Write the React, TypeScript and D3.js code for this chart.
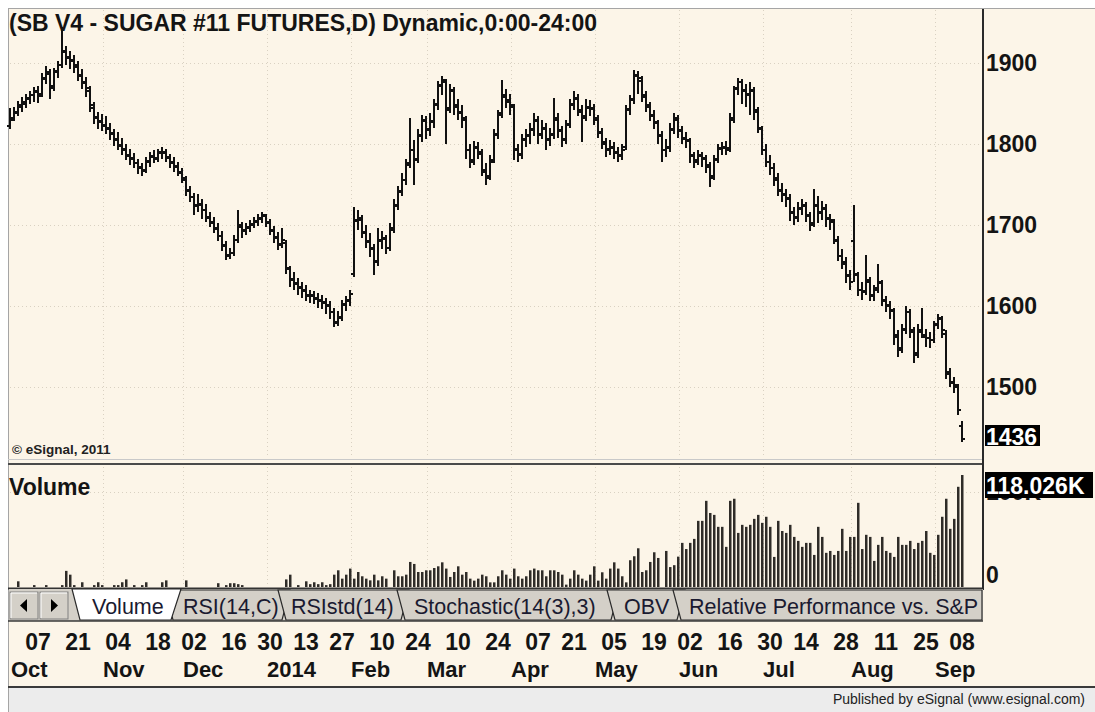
import React from 'react';
import * as d3 from 'd3';

// trading calendar (ICE sugar, Oct contract)
const firstDay = '2013-09-26';
const lastDay = '2014-09-08';
const holidays = ['2013-11-28', '2013-12-25', '2014-01-01', '2014-01-20', '2014-02-17',
  '2014-04-18', '2014-05-26', '2014-07-04', '2014-09-01'];

// daily bars
const opens = [
  1822, 1832, 1838, 1846, 1850, 1855, 1861, 1866, 1862, 1880,
  1887, 1872, 1890, 1898, 1913, 1906, 1902, 1895, 1884, 1875,
  1866, 1845, 1833, 1828, 1822, 1819, 1812, 1806, 1798, 1794,
  1785, 1782, 1776, 1771, 1767, 1779, 1785, 1782, 1790, 1789,
  1783, 1778, 1772, 1764, 1756, 1742, 1734, 1724, 1726, 1718,
  1710, 1703, 1695, 1686, 1674, 1663, 1666, 1682, 1698, 1693,
  1697, 1701, 1705, 1708, 1711, 1703, 1693, 1684, 1676, 1678,
  1646, 1633, 1627, 1622, 1619, 1612, 1613, 1609, 1606, 1604,
  1600, 1592, 1579, 1586, 1602, 1606, 1640, 1705, 1706, 1690,
  1680, 1670, 1656, 1680, 1683, 1672, 1696, 1724, 1742, 1755,
  1776, 1792, 1782, 1810, 1828, 1818, 1828, 1850, 1872, 1876,
  1845, 1865, 1846, 1838, 1830, 1792, 1780, 1796, 1788, 1766,
  1760, 1780, 1812, 1838, 1858, 1852, 1846, 1794, 1788, 1806,
  1810, 1818, 1828, 1812, 1818, 1806, 1812, 1830, 1816, 1806,
  1825, 1850, 1855, 1840, 1834, 1846, 1843, 1830, 1814, 1800,
  1794, 1796, 1789, 1786, 1796, 1843, 1856, 1884, 1878, 1858,
  1846, 1835, 1826, 1810, 1792, 1796, 1818, 1830, 1816, 1806,
  1804, 1785, 1780, 1785, 1782, 1772, 1760, 1782, 1794, 1796,
  1795, 1832, 1868, 1876, 1866, 1862, 1865, 1840, 1818, 1792,
  1778, 1770, 1756, 1742, 1738, 1732, 1715, 1710, 1720, 1724,
  1711, 1702, 1724, 1715, 1720, 1708, 1704, 1680, 1662, 1652,
  1637, 1680, 1638, 1620, 1618, 1630, 1612, 1622, 1628, 1606,
  1600, 1594, 1562, 1548, 1572, 1592, 1568, 1542, 1568, 1562,
  1560, 1558, 1578, 1584, 1566, 1516, 1505, 1500, 1452,
];
const highs = [
  1845, 1846, 1853, 1858, 1862, 1866, 1870, 1871, 1888, 1896,
  1893, 1894, 1903, 1945, 1921, 1915, 1910, 1902, 1892, 1883,
  1872, 1852, 1840, 1837, 1834, 1826, 1818, 1815, 1808, 1800,
  1794, 1789, 1782, 1777, 1784, 1790, 1792, 1794, 1796, 1794,
  1788, 1784, 1778, 1770, 1760, 1748, 1740, 1738, 1732, 1726,
  1716, 1710, 1702, 1693, 1680, 1672, 1688, 1718, 1704, 1702,
  1706, 1710, 1713, 1716, 1714, 1708, 1699, 1691, 1696, 1682,
  1650, 1642, 1635, 1630, 1626, 1620, 1618, 1616, 1614, 1610,
  1606, 1598, 1594, 1608, 1612, 1620, 1722, 1718, 1712, 1700,
  1690, 1676, 1696, 1692, 1688, 1702, 1732, 1748, 1764, 1782,
  1832, 1805, 1818, 1836, 1834, 1838, 1856, 1878, 1884, 1880,
  1874, 1870, 1856, 1848, 1834, 1800, 1804, 1802, 1794, 1776,
  1786, 1818, 1842, 1879, 1868, 1862, 1850, 1800, 1812, 1818,
  1826, 1838, 1834, 1830, 1826, 1820, 1857, 1838, 1822, 1830,
  1856, 1866, 1862, 1848, 1855, 1854, 1850, 1836, 1820, 1808,
  1805, 1802, 1796, 1800, 1848, 1860, 1891, 1890, 1884, 1866,
  1852, 1842, 1830, 1816, 1806, 1826, 1838, 1836, 1822, 1815,
  1808, 1790, 1792, 1790, 1786, 1778, 1786, 1800, 1802, 1804,
  1838, 1872, 1881, 1880, 1874, 1876, 1870, 1846, 1822, 1800,
  1786, 1776, 1764, 1752, 1744, 1738, 1722, 1728, 1732, 1728,
  1716, 1745, 1736, 1730, 1726, 1714, 1708, 1686, 1670, 1660,
  1644, 1725, 1642, 1630, 1663, 1636, 1626, 1652, 1632, 1612,
  1606, 1598, 1570, 1578, 1600, 1596, 1574, 1578, 1597, 1572,
  1568, 1582, 1590, 1588, 1570, 1524, 1512, 1504, 1458,
];
const lows = [
  1818, 1828, 1834, 1840, 1845, 1849, 1852, 1851, 1858, 1874,
  1855, 1866, 1882, 1894, 1898, 1893, 1888, 1878, 1868, 1858,
  1840, 1825, 1818, 1816, 1812, 1805, 1797, 1792, 1786, 1780,
  1774, 1770, 1763, 1760, 1764, 1772, 1776, 1778, 1782, 1778,
  1770, 1766, 1760, 1752, 1736, 1728, 1712, 1716, 1708, 1704,
  1698, 1690, 1680, 1668, 1657, 1658, 1662, 1678, 1684, 1688,
  1691, 1696, 1699, 1702, 1698, 1688, 1678, 1669, 1672, 1640,
  1624, 1620, 1614, 1610, 1606, 1604, 1602, 1598, 1596, 1590,
  1584, 1574, 1575, 1582, 1594, 1600, 1636, 1694, 1684, 1672,
  1660, 1638, 1650, 1670, 1664, 1668, 1690, 1718, 1736, 1750,
  1770, 1750, 1776, 1802, 1806, 1810, 1820, 1842, 1860, 1800,
  1838, 1836, 1830, 1820, 1782, 1770, 1774, 1782, 1760, 1750,
  1756, 1776, 1806, 1832, 1845, 1836, 1780, 1778, 1782, 1796,
  1800, 1810, 1800, 1806, 1792, 1798, 1806, 1808, 1796, 1800,
  1820, 1842, 1834, 1802, 1828, 1834, 1824, 1808, 1794, 1784,
  1786, 1782, 1778, 1780, 1792, 1836, 1850, 1862, 1852, 1840,
  1828, 1818, 1800, 1778, 1784, 1790, 1812, 1808, 1800, 1795,
  1776, 1770, 1774, 1772, 1764, 1747, 1756, 1776, 1786, 1786,
  1790, 1826, 1860, 1850, 1846, 1836, 1830, 1814, 1786, 1772,
  1762, 1748, 1736, 1728, 1722, 1705, 1700, 1704, 1712, 1704,
  1692, 1698, 1702, 1706, 1698, 1694, 1676, 1656, 1646, 1628,
  1620, 1630, 1612, 1608, 1614, 1606, 1606, 1616, 1600, 1592,
  1584, 1552, 1537, 1542, 1566, 1560, 1530, 1536, 1560, 1550,
  1548, 1554, 1572, 1560, 1510, 1500, 1492, 1465, 1432,
];
const closes = [
  1830, 1840, 1848, 1852, 1857, 1860, 1864, 1859, 1882, 1889,
  1869, 1889, 1897, 1915, 1907, 1904, 1897, 1885, 1877, 1869,
  1848, 1832, 1827, 1823, 1820, 1813, 1805, 1799, 1793, 1786,
  1783, 1777, 1770, 1768, 1778, 1784, 1783, 1789, 1790, 1784,
  1777, 1773, 1765, 1758, 1743, 1735, 1725, 1725, 1719, 1709,
  1704, 1696, 1687, 1675, 1662, 1665, 1681, 1700, 1694, 1696,
  1700, 1704, 1709, 1712, 1704, 1694, 1685, 1675, 1681, 1647,
  1632, 1628, 1623, 1620, 1613, 1612, 1610, 1607, 1605, 1601,
  1593, 1580, 1585, 1601, 1607, 1615, 1706, 1709, 1691, 1679,
  1671, 1654, 1681, 1684, 1671, 1694, 1725, 1741, 1756, 1774,
  1793, 1780, 1811, 1830, 1817, 1827, 1848, 1873, 1879, 1842,
  1867, 1848, 1840, 1832, 1793, 1778, 1795, 1790, 1768, 1758,
  1778, 1811, 1836, 1860, 1854, 1848, 1793, 1786, 1805, 1811,
  1817, 1830, 1811, 1820, 1805, 1811, 1832, 1817, 1805, 1823,
  1848, 1857, 1842, 1832, 1845, 1845, 1832, 1815, 1802, 1793,
  1795, 1790, 1785, 1793, 1842, 1854, 1885, 1881, 1860, 1848,
  1836, 1827, 1811, 1793, 1795, 1817, 1832, 1817, 1807, 1805,
  1786, 1778, 1786, 1783, 1774, 1758, 1780, 1795, 1795, 1793,
  1830, 1869, 1877, 1867, 1860, 1867, 1842, 1820, 1793, 1778,
  1770, 1758, 1743, 1737, 1733, 1716, 1709, 1721, 1725, 1712,
  1700, 1725, 1716, 1721, 1709, 1706, 1681, 1662, 1654, 1638,
  1630, 1640, 1620, 1617, 1632, 1613, 1620, 1630, 1607, 1601,
  1595, 1564, 1546, 1570, 1593, 1570, 1540, 1570, 1564, 1560,
  1558, 1576, 1585, 1570, 1518, 1506, 1502, 1472, 1436,
];
// volume in thousands of contracts
const volumes = [
  0, 0, 6, 0, 0, 0, 2, 0, 0, 2,
  0, 0, 0, 2, 17, 13, 2, 0, 5, 0,
  0, 2, 5, 2, 0, 0, 2, 2, 5, 8,
  0, 2, 0, 2, 5, 0, 0, 0, 5, 7,
  0, 0, 0, 0, 7, 0, 0, 0, 0, 0,
  0, 0, 4, 0, 2, 4, 4, 3, 2, 0,
  0, 0, 0, 0, 0, 0, 0, 0, 0, 8,
  13, 0, 2, 0, 6, 3, 5, 3, 5, 2,
  3, 13, 17.6, 8.8, 13, 19.4, 8.8, 15.8, 11.3, 8.8,
  7, 13, 7, 11.3, 8.8, 0, 17.6, 11.3, 11.3, 13,
  26.4, 24.3, 15.8, 15.8, 17.6, 17.6, 20, 21.8, 26, 19.4,
  10.6, 15.8, 21.8, 13, 15.8, 8.8, 6.7, 8.8, 13, 11.3,
  4.9, 4.9, 11.3, 17.6, 13, 8.8, 19.4, 11.3, 8.8, 11.3,
  17.6, 19.4, 17.6, 17.6, 11.3, 17.6, 17.6, 15.8, 13, 2.5,
  8.8, 17.6, 13, 8.8, 6.7, 13, 21.8, 6.7, 15.5, 8.8,
  19.4, 26, 19.4, 11.3, 4.9, 28.2, 32.4, 40.8, 15.8, 17.6,
  26.4, 36.6, 30.6, 0, 38, 21, 23, 32, 46.5, 40,
  46.5, 50.7, 69.7, 69.7, 90.8, 78, 76, 63.4, 63.4, 42.3,
  90.8, 93, 57, 65.5, 63.4, 65.5, 71.8, 76, 67.6, 74,
  63.4, 31.7, 69.7, 59, 57, 65.5, 52.8, 48.6, 42.3, 46.5,
  46.5, 33.8, 63.4, 52.8, 36, 38, 33.8, 38, 61.3, 38,
  52.8, 52.8, 88.7, 40, 55, 52.8, 27.5, 44.4, 52.8, 38,
  36, 31.7, 52.8, 44.4, 44.4, 48.6, 40, 46.5, 48.6, 59,
  36, 33.8, 55, 74, 93, 61.3, 71.8, 105.6, 118.026,
];

const priceTicks = [1500, 1600, 1700, 1800, 1900];
const volumeTicks = [0, 100];
const lastPrice = 1436;
const lastVolume = 118.026;
const dayTicks = ['2013-10-07', '2013-10-21', '2013-11-04', '2013-11-18', '2013-12-02',
  '2013-12-16', '2013-12-30', '2014-01-13', '2014-01-27', '2014-02-10', '2014-02-24',
  '2014-03-10', '2014-03-24', '2014-04-07', '2014-04-21', '2014-05-05', '2014-05-19',
  '2014-06-02', '2014-06-16', '2014-06-30', '2014-07-14', '2014-07-28', '2014-08-11',
  '2014-08-25', '2014-09-08'];
const monthStarts = ['2013-10', '2013-11', '2013-12', '2014-01', '2014-02', '2014-03',
  '2014-04', '2014-05', '2014-06', '2014-07', '2014-08', '2014-09'];
const monthLabels = ['Oct', 'Nov', 'Dec', '2014', 'Feb', 'Mar', 'Apr', 'May', 'Jun', 'Jul', 'Aug', 'Sep'];
const tabNames = ['Volume', 'RSI(14,C)', 'RSIstd(14)', 'Stochastic(14(3),3)', 'OBV', 'Relative Performance vs. S&P'];
const title = '(SB V4 - SUGAR #11 FUTURES,D) Dynamic,0:00-24:00';

const FONT = "Arial, 'Liberation Sans', sans-serif";
const CREAM = '#fcf5e8';
const GRID = '#d9d1c2';

const parse = d3.utcParse('%Y-%m-%d');
const fmt = d3.utcFormat('%Y-%m-%d');
const fmtDay = d3.utcFormat('%d');

const tradingDays = d3.utcDay
  .range(parse(firstDay) as Date, d3.utcDay.offset(parse(lastDay) as Date, 1))
  .filter((d) => d.getUTCDay() !== 0 && d.getUTCDay() !== 6 && !holidays.includes(fmt(d)));
const dayIndex = new Map(tradingDays.map((d, i) => [fmt(d), i]));

const App = () => {
  const n = closes.length;
  const x = d3.scaleLinear().domain([0, n - 1]).range([10, 962]);
  const yPrice = d3.scaleLinear().domain([1500, 1900]).range([387, 63]);
  const yVol = d3.scaleLinear().domain([0, lastVolume]).range([587, 475]);

  // month gridlines sit a few bars ahead of the first session of the month
  const monthX = monthStarts.map((m) => {
    const i = tradingDays.findIndex((d) => fmt(d).startsWith(m));
    return x(i) - 11;
  });

  // tab geometry
  const tabLefts = [72, 165, 278, 397, 607, 673];
  const tabTextX = [92, 183, 291, 414, 624, 689];
  const tabTop = 590;
  const tabBot = 620;

  return (
    <svg width={1095} height={712} style={{ position: 'absolute', left: 0, top: 0, display: 'block' }}
      fontFamily={FONT}>
      <rect x={0} y={0} width={1095} height={712} fill="#ffffff" />
      <rect x={8} y={8} width={1087} height={680} fill={CREAM} />
      <rect x={8} y={688} width={1087} height={24} fill="#ececec" />
      <line x1={8} x2={1095} y1={8.5} y2={8.5} stroke="#a5a5a5" />
      <line x1={8.5} x2={8.5} y1={8} y2={712} stroke="#a5a5a5" />

      {/* grid */}
      {priceTicks.map((t) => (
        <line key={'pg' + t} x1={10} x2={982} y1={Math.round(yPrice(t)) + 0.5} y2={Math.round(yPrice(t)) + 0.5}
          stroke={GRID} strokeDasharray="1 3" />
      ))}
      <line x1={10} x2={982} y1={Math.round(yVol(100)) + 0.5} y2={Math.round(yVol(100)) + 0.5}
        stroke={GRID} strokeDasharray="1 3" />
      {monthX.slice(1).map((mx, i) => (
        <g key={'vg' + i}>
          <line x1={Math.round(mx) + 0.5} x2={Math.round(mx) + 0.5} y1={10} y2={457} stroke={GRID} strokeDasharray="1 3" />
          <line x1={Math.round(mx) + 0.5} x2={Math.round(mx) + 0.5} y1={467} y2={586} stroke={GRID} strokeDasharray="1 3" />
        </g>
      ))}

      {/* price bars */}
      <g stroke="#111" strokeWidth={2} shapeRendering="crispEdges">
        {closes.map((c, i) => {
          const xi = Math.round(x(i));
          return (
            <g key={i}>
              <line x1={xi} x2={xi} y1={yPrice(highs[i])} y2={yPrice(lows[i])} />
              <line x1={xi - 3} x2={xi} y1={yPrice(opens[i])} y2={yPrice(opens[i])} />
              <line x1={xi} x2={xi + 3} y1={yPrice(c)} y2={yPrice(c)} />
            </g>
          );
        })}
      </g>

      <text x={9} y={31} fontSize={23} fontWeight="bold" fill="#141414">{title}</text>
      <text x={12} y={454} fontSize={13.5} fontWeight="bold" fill="#222">© eSignal, 2011</text>

      {/* panel separator */}
      <line x1={8} x2={983} y1={459.5} y2={459.5} stroke="#c9c9c9" />
      <line x1={8} x2={983} y1={464} y2={464} stroke="#4a4a4a" strokeWidth={2} />

      {/* volume */}
      <text x={9} y={495} fontSize={23} fontWeight="bold" fill="#141414">Volume</text>
      <g fill="#2f2c28">
        {volumes.map((v, i) => (
          <rect key={i} x={Math.round(x(i)) - 1} y={yVol(v)} width={2.5} height={yVol(0) - yVol(v)} />
        ))}
      </g>
      <line x1={8} x2={983} y1={588.5} y2={588.5} stroke="#333" strokeWidth={2} />

      {/* right axis */}
      <line x1={983} x2={983} y1={9} y2={590} stroke="#2a2a2a" strokeWidth={2} />
      {priceTicks.map((t) => (
        <text key={'pl' + t} x={986} y={yPrice(t) + 8} fontSize={23} fontWeight="bold" fill="#141414">{t}</text>
      ))}
      <rect x={985} y={425} width={55} height={21} fill="#000" />
      <text x={986} y={445} fontSize={23} fontWeight="bold" fill="#fff">{lastPrice}</text>
      <text x={986} y={yVol(volumeTicks[1]) + 8} fontSize={23} fontWeight="bold" fill="#141414">{volumeTicks[1]}K</text>
      <text x={986} y={583} fontSize={23} fontWeight="bold" fill="#141414">{volumeTicks[0]}</text>
      <rect x={985} y={472} width={108} height={26} fill="#000" />
      <text x={986} y={494} fontSize={23} fontWeight="bold" fill="#fff">{lastVolume.toFixed(3)}K</text>

      {/* tab strip */}
      <rect x={9} y={589} width={974} height={32} fill="#d4d0c8" />
      <g>
        {[10, 40].map((bx, k) => (
          <g key={'btn' + k}>
            <rect x={bx} y={592} width={28} height={27} fill="#d4d0c8" stroke="#808080" />
            <line x1={bx + 1} x2={bx + 27} y1={593} y2={593} stroke="#fff" />
            <line x1={bx + 1} x2={bx + 1} y1={593} y2={618} stroke="#fff" />
            <path d={k === 0
              ? `M${bx + 10},605.5 L${bx + 17},599 L${bx + 17},612 Z`
              : `M${bx + 18},605.5 L${bx + 11},599 L${bx + 11},612 Z`} fill="#000" />
          </g>
        ))}
      </g>
      {tabNames.slice(1).map((name, k) => {
        const idx = k + 1;
        const L = tabLefts[idx];
        const R = idx < tabNames.length - 1 ? tabLefts[idx + 1] + 12 : 982;
        const Rb = idx < tabNames.length - 1 ? R - 8 : 982;
        return (
          <g key={name}>
            <polygon points={`${L},${tabTop} ${R},${tabTop} ${Rb},${tabBot} ${L + 8},${tabBot}`}
              fill="#d4d0c8" stroke="#2b2b2b" strokeWidth={1.2} />
            <text x={tabTextX[idx]} y={614} fontSize={21.5} fill="#1a1a30">{name}</text>
          </g>
        );
      })}
      <polygon points={`${tabLefts[0]},${tabTop - 1} 181,${tabTop - 1} 171,${tabBot} ${tabLefts[0] + 8},${tabBot}`}
        fill="#ffffff" stroke="#2b2b2b" strokeWidth={1.2} />
      <text x={tabTextX[0]} y={614} fontSize={21.5} fill="#1a1a30">{tabNames[0]}</text>
      <line x1={8} x2={983} y1={621} y2={621} stroke="#3a3a3a" strokeWidth={1.5} />

      {/* date axis */}
      {dayTicks.map((d) => (
        <text key={d} x={x(dayIndex.get(d) as number)} y={650} fontSize={23} fontWeight="bold"
          textAnchor="middle" fill="#141414">{fmtDay(parse(d) as Date)}</text>
      ))}
      {monthLabels.map((m, i) => (
        <text key={m} x={Math.max(10, monthX[i])} y={677} fontSize={22} fontWeight="bold" fill="#141414">{m}</text>
      ))}
      <line x1={8} x2={1095} y1={687} y2={687} stroke="#3a3a3a" strokeWidth={2} />
      <text x={1085} y={704} fontSize={14} textAnchor="end" fill="#222">Published by eSignal (www.esignal.com)</text>
    </svg>
  );
};

export default App;
